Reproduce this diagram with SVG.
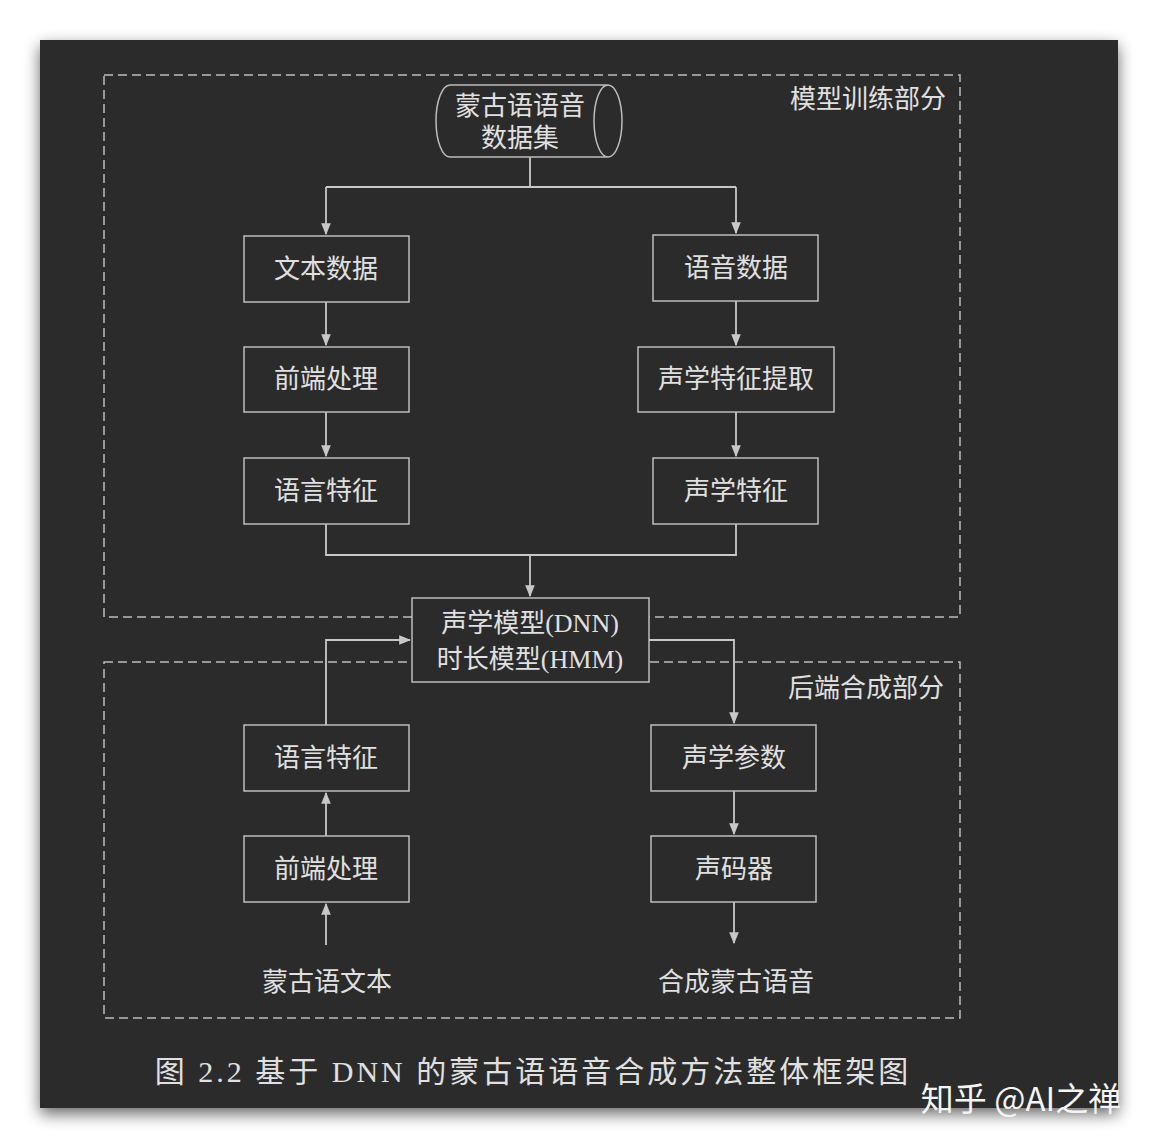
<svg xmlns="http://www.w3.org/2000/svg" width="1158" height="1148" viewBox="0 0 1158 1148">
<defs>
<marker id="ah" viewBox="0 0 10 10" refX="9" refY="5" markerWidth="12" markerHeight="12" markerUnits="userSpaceOnUse" orient="auto"><path d="M0,1 L10,5 L0,9 z" fill="#c8c8c8"/></marker>
<filter id="sh" x="-5%" y="-5%" width="110%" height="110%"><feGaussianBlur stdDeviation="8"/></filter>
</defs>
<style>
.b{fill:#2b2b2b;stroke:#bdbdbd;stroke-width:1.5}
.d{fill:none;stroke:#bdbdbd;stroke-width:1.5;stroke-dasharray:9 5}
.c{fill:none;stroke:#c8c8c8;stroke-width:1.8;marker-end:url(#ah)}
.l{fill:none;stroke:#c8c8c8;stroke-width:1.8}
text{font-family:"Liberation Serif","Noto Sans CJK SC",serif;fill:#e0e0e0;font-size:26px;text-anchor:middle}
</style>
<rect width="1158" height="1148" fill="#fff"/>
<rect x="40" y="46" width="1078" height="1068" fill="#000" opacity="0.6" filter="url(#sh)"/>
<rect x="40" y="40" width="1078" height="1068" fill="#2b2b2b"/>
<rect class="d" x="104" y="75" width="856" height="542"/>
<rect class="d" x="104" y="662" width="856" height="356"/>
<text x="868" y="108">模型训练部分</text>
<text x="866" y="697">后端合成部分</text>
<g id="connectors">
<path class="l" d="M530,157 V187 M326,187 H736"/>
<path class="c" d="M326,187 V234"/><path class="c" d="M736,187 V233"/>
<path class="c" d="M326,302 V345"/><path class="c" d="M736,301 V345"/>
<path class="c" d="M326,412 V456"/><path class="c" d="M736,412 V456"/>
<path class="l" d="M326,524 V555 H736 V524"/>
<path class="c" d="M530,555 V596"/>
<path class="c" d="M326,725 V640 H410"/>
<path class="c" d="M649,640 H734 V723"/>
<path class="c" d="M326,836 V793"/><path class="c" d="M326,945 V904"/>
<path class="c" d="M734,791 V834"/><path class="c" d="M734,902 V943"/>
</g>
<g id="n0"><path class="b" d="M450,85 H608 A14,36 0 0 1 608,157 H450 A14,36 0 0 1 450,85 Z M608,85 A14,36 0 0 0 608,157"/><text x="520" y="115">蒙古语语音</text><text x="520" y="147">数据集</text></g>
<g id="n1"><rect class="b" x="244" y="236" width="165" height="66"/><text x="326" y="278">文本数据</text></g>
<g id="n2"><rect class="b" x="653" y="235" width="165" height="66"/><text x="736" y="277">语音数据</text></g>
<g id="n3"><rect class="b" x="244" y="347" width="165" height="65"/><text x="326" y="388">前端处理</text></g>
<g id="n4"><rect class="b" x="638" y="347" width="196" height="65"/><text x="736" y="388">声学特征提取</text></g>
<g id="n5"><rect class="b" x="244" y="458" width="165" height="66"/><text x="326" y="500">语言特征</text></g>
<g id="n6"><rect class="b" x="653" y="458" width="165" height="66"/><text x="736" y="500">声学特征</text></g>
<g id="n7"><rect class="b" x="412" y="598" width="237" height="84"/><text x="530" y="632">声学模型(DNN)</text><text x="530" y="668">时长模型(HMM)</text></g>
<g id="n8"><rect class="b" x="244" y="725" width="165" height="66"/><text x="326" y="767">语言特征</text></g>
<g id="n9"><rect class="b" x="651" y="725" width="165" height="66"/><text x="734" y="767">声学参数</text></g>
<g id="n10"><rect class="b" x="244" y="836" width="165" height="66"/><text x="326" y="878">前端处理</text></g>
<g id="n11"><rect class="b" x="651" y="836" width="165" height="66"/><text x="734" y="878">声码器</text></g>
<g id="n12"><text x="327" y="991">蒙古语文本</text></g>
<g id="n13"><text x="736" y="991">合成蒙古语音</text></g>
<text x="533" y="1082" style="font-size:30px;letter-spacing:3px">图 2.2 基于 DNN 的蒙古语语音合成方法整体框架图</text>
<text x="1021" y="1111" style="font-family:'Noto Sans CJK SC',sans-serif;font-size:33px;fill:#f4f4f4">知乎 @AI之禅</text>
</svg>
